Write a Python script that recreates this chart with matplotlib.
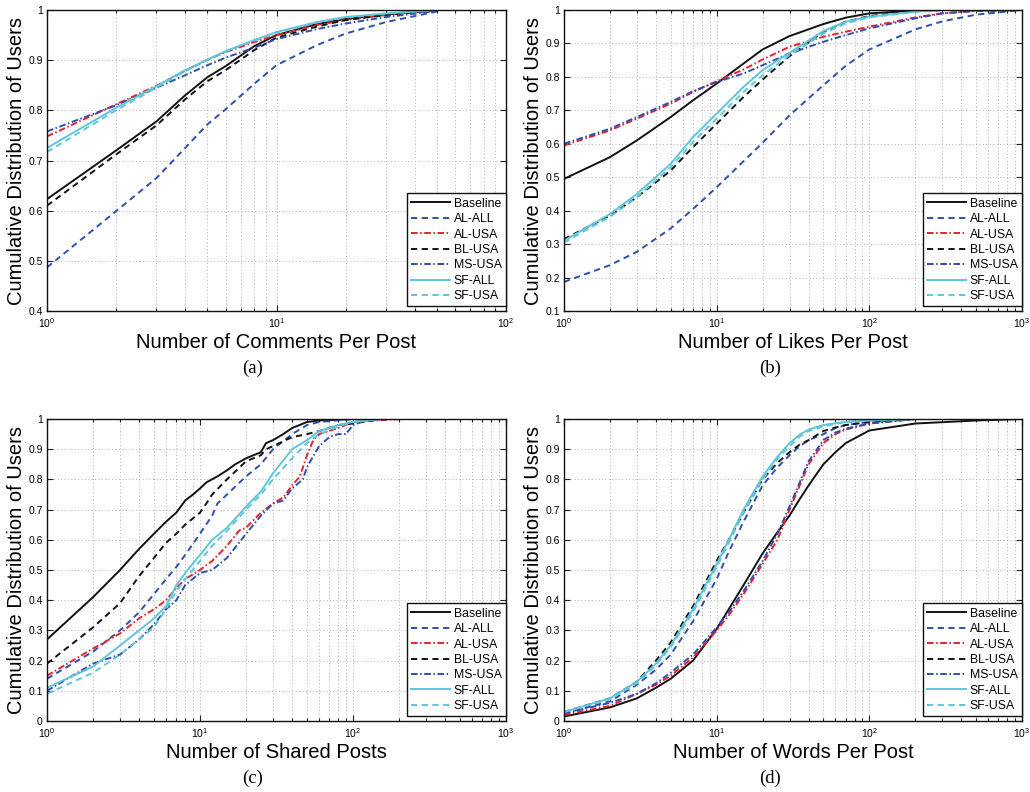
import matplotlib
matplotlib.use("Agg")
import matplotlib.pyplot as plt
from matplotlib.ticker import LogLocator, FuncFormatter, NullFormatter, MultipleLocator

plt.rcParams['font.family'] = ['Liberation Sans', 'DejaVu Sans']
plt.rcParams['mathtext.fontset'] = 'custom'
plt.rcParams['mathtext.rm'] = 'Liberation Sans'
plt.rcParams['mathtext.it'] = 'Liberation Sans'

SERIES = ["Baseline", "AL-ALL", "AL-USA", "BL-USA", "MS-USA", "SF-ALL", "SF-USA"]

# ---------------- Panel (a): comments per post ----------------
A_X = [1, 2, 3, 4, 5, 6, 8, 10, 15, 20, 30, 50]
A_BASELINE = [0.623, 0.720, 0.778, 0.830, 0.866, 0.888, 0.928, 0.950, 0.972, 0.982, 0.991, 1.0]
A_AL_ALL = [0.487, 0.599, 0.665, 0.725, 0.772, 0.802, 0.853, 0.890, 0.930, 0.953, 0.976, 0.997]
A_AL_USA = [0.748, 0.812, 0.849, 0.879, 0.901, 0.916, 0.936, 0.950, 0.970, 0.980, 0.990, 1.0]
A_BL_USA = [0.610, 0.712, 0.770, 0.822, 0.858, 0.880, 0.920, 0.945, 0.967, 0.980, 0.990, 1.0]
A_MS_USA = [0.758, 0.810, 0.845, 0.870, 0.890, 0.905, 0.925, 0.942, 0.962, 0.973, 0.986, 0.998]
A_SF_ALL = [0.725, 0.805, 0.848, 0.880, 0.901, 0.918, 0.940, 0.956, 0.976, 0.986, 0.993, 1.0]
A_SF_USA = [0.717, 0.800, 0.845, 0.878, 0.900, 0.917, 0.939, 0.955, 0.975, 0.985, 0.993, 1.0]

# ---------------- Panel (b): likes per post ----------------
B_X = [1, 2, 3, 5, 7, 10, 15, 20, 30, 50, 70, 100, 200, 300, 500, 1000]
B_BASELINE = [0.495, 0.560, 0.610, 0.680, 0.730, 0.780, 0.840, 0.882, 0.922, 0.958, 0.977, 0.990, 0.998, 1.0, 1.0, 1.0]
B_AL_ALL = [0.187, 0.237, 0.277, 0.347, 0.405, 0.470, 0.548, 0.603, 0.685, 0.775, 0.833, 0.882, 0.942, 0.966, 0.986, 1.0]
B_AL_USA = [0.595, 0.640, 0.675, 0.720, 0.755, 0.787, 0.822, 0.852, 0.890, 0.920, 0.935, 0.950, 0.978, 0.990, 0.997, 1.0]
B_BL_USA = [0.315, 0.385, 0.440, 0.520, 0.590, 0.660, 0.740, 0.792, 0.862, 0.935, 0.965, 0.982, 0.996, 1.0, 1.0, 1.0]
B_MS_USA = [0.600, 0.645, 0.680, 0.725, 0.757, 0.785, 0.810, 0.835, 0.870, 0.905, 0.925, 0.945, 0.975, 0.990, 0.997, 1.0]
B_SF_ALL = [0.310, 0.390, 0.450, 0.540, 0.620, 0.690, 0.770, 0.820, 0.872, 0.937, 0.965, 0.980, 0.995, 1.0, 1.0, 1.0]
B_SF_USA = [0.305, 0.382, 0.440, 0.530, 0.605, 0.675, 0.755, 0.805, 0.865, 0.930, 0.960, 0.978, 0.994, 1.0, 1.0, 1.0]

# ---------------- Panel (c): shared posts ----------------
C_BASELINE_X = [1, 2, 3, 4, 5, 6, 7, 8, 9, 10, 11, 13, 15, 17, 20, 25, 27, 30, 35, 40, 50, 60, 100]
C_BASELINE = [0.27, 0.41, 0.50, 0.57, 0.62, 0.66, 0.69, 0.73, 0.75, 0.77, 0.79, 0.81, 0.83, 0.85, 0.87, 0.89, 0.92, 0.93, 0.95, 0.97, 0.99, 0.995, 1.0]
C_AL_ALL_X = [1, 2, 3, 4, 5, 6, 7, 8, 10, 12, 13, 15, 20, 25, 30, 40, 50, 60, 100]
C_AL_ALL = [0.14, 0.23, 0.30, 0.36, 0.42, 0.47, 0.51, 0.55, 0.62, 0.68, 0.72, 0.75, 0.81, 0.85, 0.90, 0.95, 0.98, 0.99, 1.0]
C_AL_USA_X = [1, 2, 3, 4, 5, 6, 7, 8, 10, 12, 15, 18, 20, 25, 30, 35, 40, 45, 50, 55, 60, 80, 100, 200]
C_AL_USA = [0.15, 0.24, 0.29, 0.34, 0.37, 0.40, 0.44, 0.47, 0.50, 0.53, 0.58, 0.63, 0.64, 0.69, 0.72, 0.74, 0.78, 0.81, 0.88, 0.93, 0.95, 0.97, 0.99, 1.0]
C_BL_USA_X = [1, 2, 3, 4, 5, 6, 7, 8, 10, 11, 12, 15, 20, 25, 27, 30, 40, 50, 60, 80, 100, 150]
C_BL_USA = [0.19, 0.31, 0.39, 0.48, 0.54, 0.59, 0.62, 0.65, 0.69, 0.72, 0.75, 0.80, 0.86, 0.88, 0.90, 0.91, 0.94, 0.95, 0.96, 0.98, 0.985, 1.0]
C_MS_USA_X = [1, 2, 3, 4, 5, 6, 7, 8, 10, 12, 15, 18, 20, 25, 30, 35, 40, 47, 50, 60, 70, 80, 90, 100, 120, 170]
C_MS_USA = [0.10, 0.19, 0.22, 0.27, 0.32, 0.37, 0.40, 0.45, 0.49, 0.50, 0.54, 0.59, 0.62, 0.68, 0.72, 0.73, 0.77, 0.80, 0.84, 0.91, 0.94, 0.95, 0.95, 0.98, 0.995, 1.0]
C_SF_ALL_X = [1, 2, 3, 4, 5, 6, 7, 8, 10, 12, 15, 20, 25, 30, 40, 50, 60, 80, 100, 150]
C_SF_ALL = [0.11, 0.18, 0.25, 0.30, 0.34, 0.38, 0.45, 0.49, 0.55, 0.60, 0.64, 0.71, 0.76, 0.82, 0.90, 0.93, 0.96, 0.98, 0.99, 1.0]
C_SF_USA_X = [1, 2, 3, 4, 5, 6, 7, 8, 10, 12, 15, 20, 25, 30, 40, 50, 60, 80, 100, 150]
C_SF_USA = [0.09, 0.16, 0.22, 0.27, 0.31, 0.37, 0.43, 0.47, 0.53, 0.58, 0.63, 0.70, 0.75, 0.80, 0.87, 0.92, 0.95, 0.975, 0.99, 1.0]

# ---------------- Panel (d): words per post ----------------
D_X = [1, 2, 3, 4, 5, 7, 10, 12, 15, 20, 25, 30, 35, 40, 50, 60, 70, 100, 200, 500, 1000]
D_BASELINE = [0.015, 0.045, 0.075, 0.110, 0.140, 0.200, 0.305, 0.370, 0.450, 0.555, 0.625, 0.680, 0.735, 0.780, 0.850, 0.890, 0.920, 0.962, 0.985, 0.995, 1.0]
D_AL_ALL = [0.025, 0.065, 0.120, 0.170, 0.220, 0.330, 0.470, 0.560, 0.660, 0.780, 0.840, 0.880, 0.910, 0.930, 0.950, 0.970, 0.980, 0.990, 1.0, 1.0, 1.0]
D_AL_USA = [0.020, 0.050, 0.090, 0.120, 0.150, 0.210, 0.300, 0.350, 0.420, 0.520, 0.600, 0.700, 0.780, 0.850, 0.920, 0.950, 0.965, 0.985, 1.0, 1.0, 1.0]
D_BL_USA = [0.030, 0.075, 0.130, 0.200, 0.260, 0.380, 0.530, 0.600, 0.690, 0.800, 0.855, 0.890, 0.915, 0.930, 0.960, 0.972, 0.980, 0.990, 1.0, 1.0, 1.0]
D_MS_USA = [0.025, 0.060, 0.090, 0.125, 0.160, 0.220, 0.310, 0.360, 0.430, 0.530, 0.620, 0.710, 0.790, 0.860, 0.930, 0.955, 0.968, 0.985, 1.0, 1.0, 1.0]
D_SF_ALL = [0.030, 0.075, 0.130, 0.190, 0.250, 0.370, 0.520, 0.600, 0.700, 0.810, 0.875, 0.920, 0.948, 0.965, 0.980, 0.986, 0.990, 0.995, 1.0, 1.0, 1.0]
D_SF_USA = [0.030, 0.072, 0.125, 0.185, 0.245, 0.360, 0.510, 0.590, 0.690, 0.800, 0.868, 0.910, 0.942, 0.960, 0.975, 0.984, 0.990, 0.995, 1.0, 1.0, 1.0]

XLABELS = ["Number of Comments Per Post", "Number of Likes Per Post",
           "Number of Shared Posts", "Number of Words Per Post"]
CAPTIONS = ["(a)", "(b)", "(c)", "(d)"]
YLABEL = "Cumulative Distribution of Users"

BLACK = "#111111"
BLUE = "#2f4fae"
RED = "#e8212a"
CYAN = "#5fc6da"
DASH = (0, (3.2, 2.3))
DASHDOT = (0, (3.4, 1.3, 0.8, 1.3))
STYLES = [
    dict(color=BLACK, linestyle="-"),
    dict(color=BLUE, linestyle=DASH),
    dict(color=RED, linestyle=DASHDOT),
    dict(color=BLACK, linestyle=DASH),
    dict(color=BLUE, linestyle=DASHDOT),
    dict(color=CYAN, linestyle="-"),
    dict(color=CYAN, linestyle=DASH),
]

panels = [
    dict(xs=[A_X] * 7,
         ys=[A_BASELINE, A_AL_ALL, A_AL_USA, A_BL_USA, A_MS_USA, A_SF_ALL, A_SF_USA],
         xlim=(1, 100), ylim=(0.4, 1.0)),
    dict(xs=[B_X] * 7,
         ys=[B_BASELINE, B_AL_ALL, B_AL_USA, B_BL_USA, B_MS_USA, B_SF_ALL, B_SF_USA],
         xlim=(1, 1000), ylim=(0.1, 1.0)),
    dict(xs=[C_BASELINE_X, C_AL_ALL_X, C_AL_USA_X, C_BL_USA_X, C_MS_USA_X, C_SF_ALL_X, C_SF_USA_X],
         ys=[C_BASELINE, C_AL_ALL, C_AL_USA, C_BL_USA, C_MS_USA, C_SF_ALL, C_SF_USA],
         xlim=(1, 1000), ylim=(0.0, 1.0)),
    dict(xs=[D_X] * 7,
         ys=[D_BASELINE, D_AL_ALL, D_AL_USA, D_BL_USA, D_MS_USA, D_SF_ALL, D_SF_USA],
         xlim=(1, 1000), ylim=(0.0, 1.0)),
]

fig = plt.figure(figsize=(10.30, 7.92), dpi=100)
rects = [
    (47 / 1030, 1 - 311 / 792, 459 / 1030, 301 / 792),
    (564 / 1030, 1 - 311 / 792, 458 / 1030, 301 / 792),
    (47 / 1030, 1 - 721 / 792, 459 / 1030, 302 / 792),
    (564 / 1030, 1 - 721 / 792, 458 / 1030, 302 / 792),
]
cap_pos = [(253 / 1030, 1 - 368 / 792), (770 / 1030, 1 - 368 / 792),
           (253 / 1030, 1 - 778 / 792), (770 / 1030, 1 - 778 / 792)]

yfmt = FuncFormatter(lambda v, p: ("%g" % round(v, 2)))

for i, (rect, pnl) in enumerate(zip(rects, panels)):
    ax = fig.add_axes(rect)
    for name, xs, ys, st in zip(SERIES, pnl["xs"], pnl["ys"], STYLES):
        ax.plot(xs, ys, label=name, linewidth=1.4, **st)
    ax.set_xscale("log")
    ax.set_xlim(*pnl["xlim"])
    ax.set_ylim(*pnl["ylim"])
    ax.xaxis.set_major_locator(LogLocator(base=10, numticks=10))
    ax.xaxis.set_minor_locator(LogLocator(base=10, subs=range(2, 10), numticks=100))
    ax.xaxis.set_minor_formatter(NullFormatter())
    ax.yaxis.set_major_locator(MultipleLocator(0.1))
    ax.yaxis.set_major_formatter(yfmt)
    ax.tick_params(which="both", direction="in", top=True, right=True, labelsize=7.5,
                   width=0.8, color="#222222")
    ax.tick_params(which="major", length=4)
    ax.tick_params(which="minor", length=2)
    ax.tick_params(axis="x", pad=4)
    ax.tick_params(axis="y", pad=3)
    ax.grid(True, which="major", axis="both", linestyle=(0, (1, 2.5)), color="#b0b0b0", linewidth=0.7)
    ax.grid(True, which="minor", axis="x", linestyle=(0, (1, 2.5)), color="#b0b0b0", linewidth=0.7)
    for s in ax.spines.values():
        s.set_linewidth(1.0)
        s.set_color("#111111")
    ax.set_xlabel(XLABELS[i], fontsize=14.5, labelpad=2)
    ax.set_ylabel(YLABEL, fontsize=14.5, labelpad=2)
    leg = ax.legend(loc="lower right", bbox_to_anchor=(1.0, 0.015), fontsize=8.8,
                    frameon=True, fancybox=False, framealpha=1,
                    borderaxespad=0.0, handlelength=3.2, handletextpad=0.3,
                    labelspacing=0.28, borderpad=0.35)
    leg.get_frame().set_edgecolor("#111111")
    leg.get_frame().set_linewidth(1.0)
    fig.text(cap_pos[i][0], cap_pos[i][1], CAPTIONS[i], ha="center", va="center",
             fontsize=13.5, family=["Liberation Serif", "DejaVu Serif"])

fig.savefig("out.png", dpi=100)
